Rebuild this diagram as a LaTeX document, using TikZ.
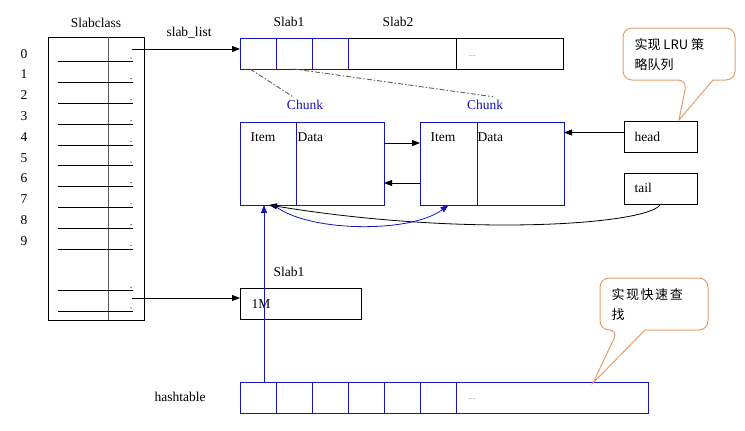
\documentclass[tikz,border=0pt]{standalone}
\usepackage{fontspec}
\setmainfont{Liberation Serif}
\newfontfamily\cjk{Noto Sans CJK SC}
\newfontfamily\cjkw[LetterSpace=12]{Noto Sans CJK SC}
\usepackage{tikz}
\usetikzlibrary{arrows.meta}
\definecolor{lblue}{RGB}{20,20,190}
\definecolor{callorange}{RGB}{228,158,108}
\tikzset{>=stealth}
\tikzset{%
    kcell/.style={draw,line width=1pt,inner sep=0pt,outer sep=0pt,minimum height=31pt,anchor=north west},
    bcell/.style={kcell,draw=lblue,minimum width=36pt},
    arr/.style={-{Triangle[length=8pt,width=6pt]},line width=0.8pt},
    barr/.style={arr,lblue},
    callout/.style={draw=callorange,line width=1pt},
    tinydots/.style={gray,font=\fontsize{9}{10}\selectfont},
    dashdot/.style={gray!75!black,line width=0.9pt,dash pattern=on 5pt off 2pt on 1.5pt off 2pt}
}

\begin{document}
\begin{tikzpicture}[x=1pt,y=-1pt,font=\fontsize{13.5}{16}\selectfont]
\useasboundingbox (0,0) rectangle (745,431);

\node[kcell,minimum width=96pt,minimum height=283pt] (sc) at (48,37) {};
\node (sctitle) at (96,23) {Slabclass};
\draw[gray!70!black,line width=1pt] ([xshift=12pt]sc.north) -- ([xshift=12pt]sc.south);
\foreach \i in {0,...,9} {
  \draw[line width=0.8pt] (58,61.7+20.8*\i) -- (133,61.7+20.8*\i);
  \fill (131,58+20.8*\i) circle (0.6pt);
  \node (n\i) at (24,53.7+20.8*\i) {\i};
}
\foreach \y in {290.7,311.5} {
  \draw[line width=0.8pt] (58,\y) -- (133,\y);
  \fill (131,\y-3.5) circle (0.6pt);
}

\node[kcell,minimum width=108pt] (slab2) at (348,38) {};
\node[kcell,minimum width=107pt] (srest) at (456,38) {};
\foreach \i in {0,1,2}
  \node[bcell] (s\i) at (240+36*\i,38) {};
\node[tinydots] (sdots) at (472,56) {...};
\node (slab1t) at (289,22) {Slab1};
\node (slab2t) at (398,22) {Slab2};
\node (sltext) at (189,33) {slab\_list};
\coordinate (c0) at (132,49);
\draw[arr] (c0) -- (c0 -| s0.west);

\node[kcell,draw=lblue,minimum width=56pt,minimum height=83pt] (item1) at (240,122) {};
\node[kcell,draw=lblue,minimum width=88pt,minimum height=83pt] (data1) at (296,122) {};
\node[kcell,draw=lblue,minimum width=57pt,minimum height=83pt] (item2) at (420,122) {};
\node[kcell,draw=lblue,minimum width=87pt,minimum height=83pt] (data2) at (477,122) {};
\node[anchor=west] (it1) at (247,137) {Item};
\node[anchor=west] (dt1) at (294,137) {Data};
\node[anchor=west] (it2) at (427,137) {Item};
\node[anchor=west] (dt2) at (474,137) {Data};
\node[lblue] (ch1) at (305,105) {Chunk};
\node[lblue] (ch2) at (485,105) {Chunk};
\draw[dashdot] ([xshift=-8pt]s0.south) -- ([xshift=-12pt]ch1.north);
\draw[dashdot] (s1.south) -- ([xshift=8pt]ch2.north);
\draw[arr] ([yshift=-21pt]data1.north east) -- ([yshift=-21pt]item2.north west);
\draw[arr] ([yshift=22pt]item2.south west) -- ([yshift=22pt]data1.south east);

\node[kcell,minimum width=73pt] (head) at (624,121) {};
\node[anchor=west] (headt) at (631,137) {head};
\node[kcell,minimum width=73pt] (tail) at (624,173) {};
\node[anchor=west] (tailt) at (631,188) {tail};
\draw[arr] ([yshift=4pt]head.west) -- ([yshift=4pt]head.west -| data2.east);
\draw[arr] (tail.south) .. controls (652,224) and (470,238) .. ([xshift=1pt]item1.south);
\draw[barr] ([xshift=6pt]item1.south) .. controls (305,232) and (410,234) .. (item2.south);

\node[kcell,minimum width=121pt] (slab1b) at (240,288) {};
\node[anchor=west] (onem) at (248,304) {1M};
\node (slab1l) at (289,272) {Slab1};
\coordinate (c1) at (132,298);
\draw[arr] (c1) -- (c1 -| slab1b.west);

\foreach \i in {0,...,5}
  \node[bcell] (h\i) at (240+36*\i,382) {};
\node[bcell,minimum width=192pt] (hrest) at (456,382) {};
\node[tinydots] (hdots) at (472,399) {...};
\node (htext) at (180,397) {hashtable};
\draw[barr] ([xshift=6pt]h0.north) -- ([xshift=6pt]h0.north |- item1.south);

\draw[callout] (679,120) -- (713,80) [rounded corners=9pt] -- (735,80) -- (735,28) -- (623,28) -- (623,80) -- (687,80) [sharp corners] -- cycle;
\node[anchor=north west,align=left,font=\cjk\fontsize{13}{20}\selectfont] (lru) at (631,35) {实现 LRU 策\\略队列};
\draw[callout] (593,383) -- (645,330) [rounded corners=9pt] -- (708,330) -- (708,278) -- (600,278) -- (600,330) -- (618,330) [sharp corners] -- cycle;
\node[anchor=north west,align=left,font=\cjkw\fontsize{13}{20}\selectfont] (fast) at (608,285) {实现快速查\\找};
\end{tikzpicture}
\end{document}
